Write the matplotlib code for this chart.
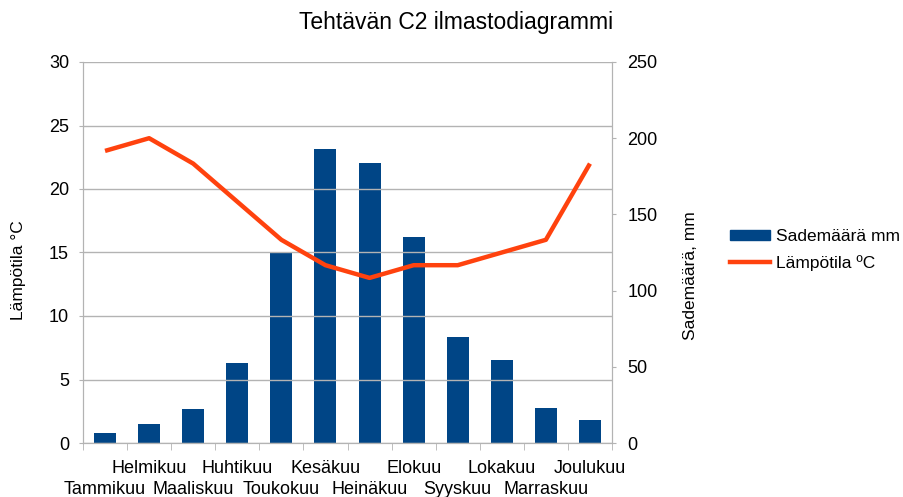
import numpy as np
import matplotlib
matplotlib.use("Agg")
import matplotlib.pyplot as plt
from matplotlib.lines import Line2D
from matplotlib.patches import Patch

plt.rcParams["font.family"] = ["Liberation Sans", "DejaVu Sans"]

months = ["Tammikuu", "Helmikuu", "Maaliskuu", "Huhtikuu", "Toukokuu", "Kesäkuu",
          "Heinäkuu", "Elokuu", "Syyskuu", "Lokakuu", "Marraskuu", "Joulukuu"]
rain_mm = [6.5, 12.5, 22, 52.5, 125, 193, 184, 135, 69.5, 54.5, 23, 15]
temp_c = [23, 24, 22, 19, 16, 14, 13, 14, 14, 15, 16, 22]

BAR_COLOR = "#004586"
LINE_COLOR = "#ff420e"
GRID = "#b3b3b3"
FS = 13

fig = plt.figure(figsize=(9.04, 4.97), dpi=100)
ax = fig.add_axes([83 / 904, 1 - 443 / 497, 529 / 904, 381 / 497])
ax2 = ax.twinx()

x = np.arange(len(months))
ax2.bar(x, rain_mm, width=0.5, color=BAR_COLOR, zorder=2)
ax.plot(x, temp_c, color=LINE_COLOR, lw=3.2, zorder=3, solid_capstyle="butt")

# line above bars
ax.set_zorder(ax2.get_zorder() + 1)
ax.patch.set_visible(False)

ax.set_xlim(-0.5, 11.5)
ax.set_ylim(0, 30)
ax2.set_ylim(0, 250)
ax.set_yticks(np.arange(0, 31, 5))
ax2.set_yticks(np.arange(0, 251, 50))
ax.yaxis.grid(True, color=GRID, lw=1)
ax.set_axisbelow(True)

# month labels in two rows: upper row on the main axis, lower on a secondary one
ax.set_xticks(x[1::2], [months[i] for i in x[1::2]])
ax.tick_params(axis="x", length=0, pad=12, labelsize=FS)
ax.set_xticks(np.arange(-0.5, 12, 1), minor=True)
ax.tick_params(axis="x", which="minor", length=5, color=GRID)
low = ax.secondary_xaxis("bottom")
low.set_xticks(x[0::2], [months[i] for i in x[0::2]])
low.tick_params(length=0, pad=27, labelsize=FS)
low.spines["bottom"].set_visible(False)

for a in (ax, ax2):
    for s in a.spines.values():
        s.set_color(GRID)
    a.spines["top"].set_visible(False)
ax.tick_params(axis="y", length=3, color=GRID, pad=7, labelsize=FS)
ax2.tick_params(axis="y", length=3, color=GRID, pad=8, labelsize=FS)

ax.set_ylabel("Lämpötila °C", fontsize=12.5)
ax.yaxis.set_label_coords(-57 / 529, 0.455)
ax2.set_ylabel("Sademäärä, mm", fontsize=12.5)
ax2.yaxis.set_label_coords(1 + 71 / 529, 0.44)

fig.suptitle("Tehtävän C2 ilmastodiagrammi", fontsize=16.5, x=0.505, y=0.978)

handles = [Patch(color=BAR_COLOR), Line2D([0], [0], color=LINE_COLOR, lw=3.2)]
fig.legend(handles, ["Sademäärä mm", "Lämpötila ºC"], loc="center left",
           bbox_to_anchor=(730 / 904, 0.497), frameon=False, fontsize=12.5,
           handlelength=2.3, handleheight=0.55, labelspacing=0.6, handletextpad=0.35,
           borderpad=0, borderaxespad=0)

fig.savefig("out.png", dpi=100)
